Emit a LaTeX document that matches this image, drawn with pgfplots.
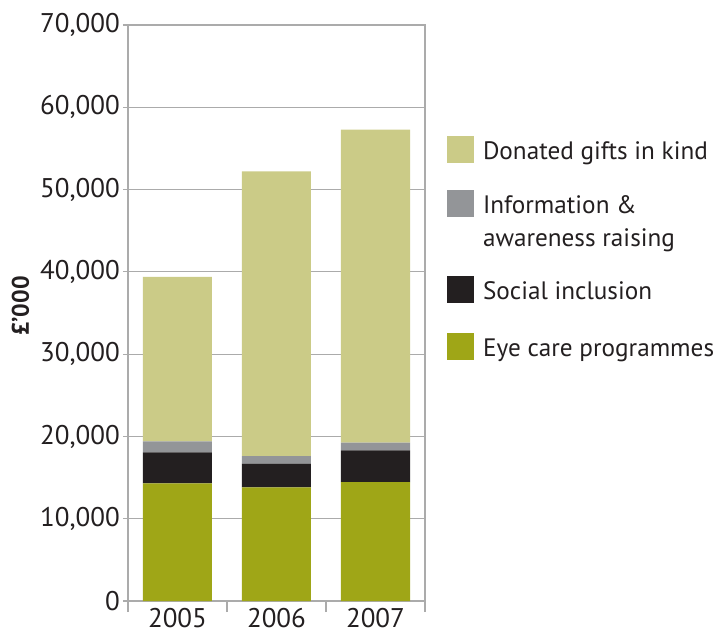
\documentclass[border=0pt]{standalone}
\usepackage{pgfplots}
\pgfplotsset{compat=1.18}
\usepackage{fontspec}
\setmainfont{PT Sans}
\definecolor{donated}{HTML}{CBCB87}
\definecolor{info}{HTML}{939598}
\definecolor{social}{HTML}{231F20}
\definecolor{eye}{HTML}{9FA617}
\definecolor{txt}{HTML}{231F20}
\definecolor{gridc}{HTML}{ABABAB}
\pgfplotsset{sq/.style={draw=none, legend image code/.code={\fill[##1] (0pt,-4pt) rectangle (27pt,23pt);}}}
\begin{document}
\begin{tikzpicture}
\begin{axis}[
  scale only axis, width=297pt, height=576pt,
  ybar stacked, bar width=69pt,
  xmin=-0.5, xmax=2.5, ymin=0, ymax=70000,
  xtick={-0.5,0.5,1.5,2.5}, xticklabels={2005,2006,2007}, x tick label as interval,
  ytick={0,10000,20000,30000,40000,50000,60000,70000},
  xtick pos=bottom, ytick pos=left,
  scaled y ticks=false,
  /pgf/number format/assume math mode=true,
  /pgf/number format/1000 sep={,},
  tick align=outside, major tick length=5pt,
  xtick style={/pgfplots/major tick length=11pt},
  axis line style={gridc, line width=1.2pt},
  ymajorgrids, grid style={gridc, line width=1.2pt},
  major tick style={gridc, line width=1.2pt},
  tick label style={font=\fontsize{27}{32}\selectfont, text=txt},
  yticklabel style={inner sep=0pt, xshift=-3pt},
  xticklabel style={inner sep=0pt, yshift=-2pt},
  ylabel={\bfseries £’000},
  ylabel style={font=\fontsize{24}{28}\selectfont, text=txt, at={(axis description cs:-0.362,0.512)}, anchor=center},
  legend style={at={(axis description cs:1.0741,0.8073)}, anchor=north west, draw=none, fill=none,
    inner sep=0pt, outer sep=0pt, row sep=26pt, column sep=9pt,
    font=\fontsize{25.2}{30}\selectfont, text=txt,
    nodes={inner sep=0pt, text height=19pt, text depth=5pt},
    cells={anchor=base west}},
]
\addlegendimage{sq, fill=donated}\addlegendentry{Donated gifts in kind}
\addlegendimage{sq, fill=info}\addlegendentry[text depth=37pt]{\begin{tabular}[t]{@{}l@{}}Information \&\\[3pt]awareness raising\end{tabular}}
\addlegendimage{sq, fill=social}\addlegendentry[text depth=8pt]{Social inclusion}
\addlegendimage{sq, fill=eye}\addlegendentry{Eye care programmes}
\addplot[fill=eye, draw=none, forget plot] coordinates {(0,14300) (1,13800) (2,14450)};
\addplot[fill=social, draw=none, forget plot] coordinates {(0,3750) (1,2900) (2,3850)};
\addplot[fill=info, draw=none, forget plot] coordinates {(0,1350) (1,900) (2,950)};
\addplot[fill=donated, draw=none, forget plot] coordinates {(0,20000) (1,34600) (2,38050)};
\end{axis}
\pgfresetboundingbox
\path (-128pt,-33pt) rectangle (589pt,601pt);
\end{tikzpicture}
\end{document}
